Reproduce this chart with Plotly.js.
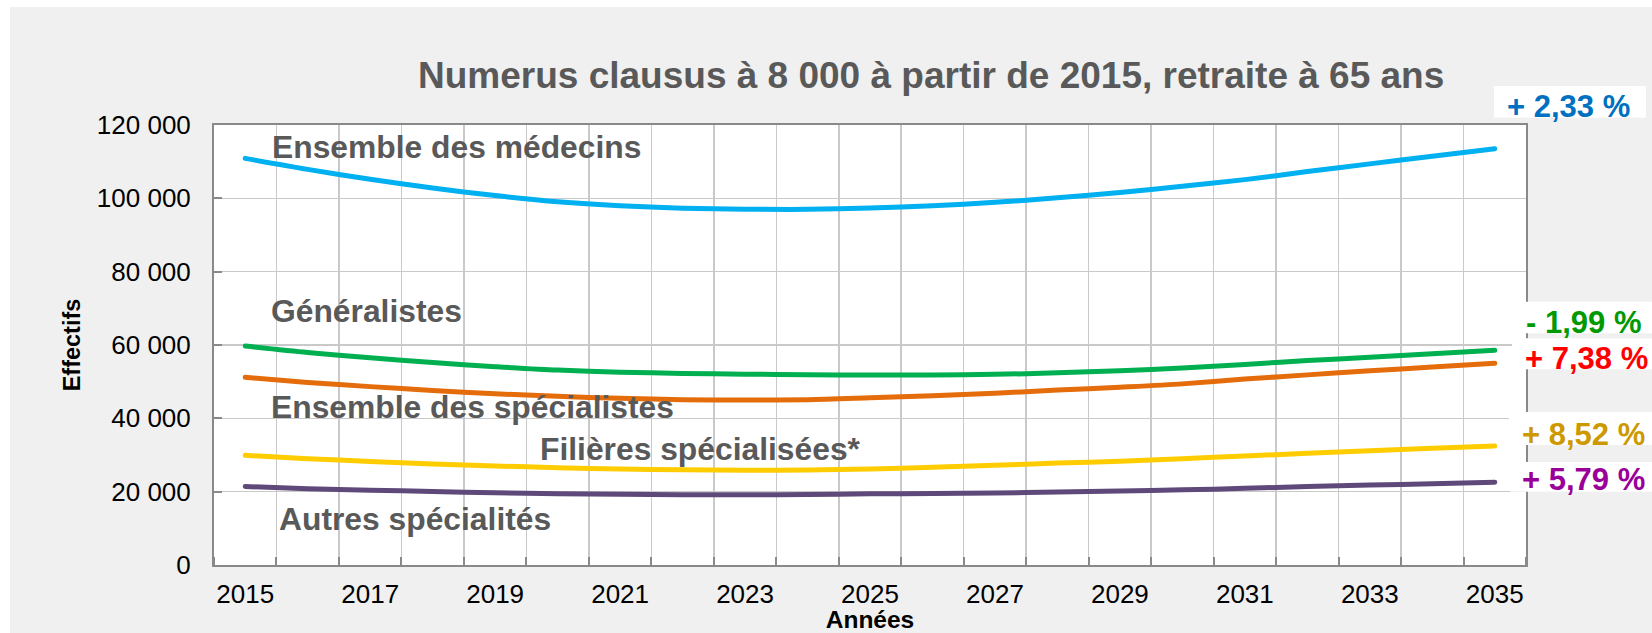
<!DOCTYPE html>
<html>
<head>
<meta charset="utf-8">
<script src="https://cdn.plot.ly/plotly-3.0.1.min.js"></script>
<style>
  html, body { margin: 0; padding: 0; background: #ffffff; width: 1652px; height: 633px; overflow: hidden; }
  #chart { position: absolute; left: 10px; top: 7px; width: 1642px; height: 626px; }
  .scatterlayer .js-line { stroke-linecap: round; stroke-linejoin: round; }
</style>
</head>
<body>
<div id="chart"></div>
<script>
// ---- Data ----
const years = [2015, 2016, 2017, 2018, 2019, 2020, 2021, 2022, 2023, 2024, 2025,
               2026, 2027, 2028, 2029, 2030, 2031, 2032, 2033, 2034, 2035];

const ensembleMedecins = [110900, 107900, 105200, 102800, 100750, 99050, 97950, 97300, 97050, 97000, 97350,
                          98000, 98900, 100150, 101600, 103300, 105100, 107300, 109400, 111500, 113500];
const generalistes = [59700, 57950, 56500, 55200, 54100, 53150, 52600, 52250, 52050, 51900, 51800,
                      51850, 52000, 52400, 53000, 53700, 54700, 55750, 56650, 57600, 58550];
const ensembleSpecialistes = [51200, 49800, 48650, 47600, 46700, 46000, 45450, 45100, 45000, 45100, 45600,
                              46150, 46850, 47700, 48500, 49400, 50700, 51850, 52950, 54000, 55000];
const filieresSpecialisees = [29900, 29000, 28250, 27550, 27000, 26550, 26150, 25950, 25850, 25900, 26200,
                              26650, 27200, 27800, 28300, 29000, 29750, 30450, 31150, 31850, 32450];
const autresSpecialites = [21400, 20800, 20400, 20050, 19700, 19450, 19300, 19150, 19150, 19200, 19400,
                           19500, 19650, 19900, 20200, 20500, 20900, 21400, 21800, 22150, 22600];

const seriesNames = ["Ensemble des médecins", "Généralistes", "Ensemble des spécialistes",
                     "Filières spécialisées*", "Autres spécialités"];
const evolutionLabels = ["+ 2,33 %", "- 1,99 %", "+ 7,38 %", "+ 8,52 %", "+ 5,79 %"];
const xTickYears = [2015, 2017, 2019, 2021, 2023, 2025, 2027, 2029, 2031, 2033, 2035];
const yTickValues = [0, 20000, 40000, 60000, 80000, 100000, 120000];

const chartTitle = "Numerus clausus à 8 000 à partir de 2015, retraite à 65 ans";
const xTitle = "Années";
const yTitle = "Effectifs";

// ---- Styles ----
const FONT = "'Liberation Sans', Arial, sans-serif";
const lineColors = ["#00B0F0", "#00B050", "#E46C0A", "#FFCC00", "#5F497A"];
const pctColors = ["#0070C0", "#009900", "#FF0000", "#CC9900", "#990099"];
const values = [ensembleMedecins, generalistes, ensembleSpecialistes, filieresSpecialisees, autresSpecialites];

const traces = values.map((v, i) => ({
  type: "scatter",
  mode: "lines",
  x: years,
  y: v,
  name: seriesNames[i],
  line: { color: lineColors[i], width: 5, shape: "spline", smoothing: 0.8 },
  hoverinfo: "skip"
}));

// series label positions (paper coords, relative to plot area)
const seriesLabelPos = [
  { x: 0.0429, y: 0.9489 },
  { x: 0.0417, y: 0.5775 },
  { x: 0.0417, y: 0.3580 },
  { x: 0.2470, y: 0.2639 },
  { x: 0.0482, y: 0.1048 }
];
const pctLabelPos = [
  { x: 0.9842, y: 1.0411 },
  { x: 0.9982, y: 0.5511 },
  { x: 0.9975, y: 0.4693 },
  { x: 0.9957, y: 0.2973 },
  { x: 0.9958, y: 0.1934 }
];
const pctBoxes = [
  { x0: 0.9756, x1: 1.0915, y0: 1.0166, y1: 1.0886 },
  { x0: 0.9985, x1: 1.0960, y0: 0.5266, y1: 0.5984 },
  { x0: 0.9893, x1: 1.0960, y0: 0.4448, y1: 0.5152 },
  { x0: 0.9870, x1: 1.0960, y0: 0.2727, y1: 0.3477 },
  { x0: 0.9878, x1: 1.0960, y0: 0.1666, y1: 0.2341 }
];

const annotations = [];
seriesNames.forEach((name, i) => {
  annotations.push({
    xref: "paper", yref: "paper", x: seriesLabelPos[i].x, y: seriesLabelPos[i].y,
    xanchor: "left", yanchor: "middle", showarrow: false,
    text: "<b>" + name + "</b>",
    font: { family: FONT, size: 31.8, color: "#595959" }
  });
});
evolutionLabels.forEach((t, i) => {
  annotations.push({
    xref: "paper", yref: "paper", x: pctLabelPos[i].x, y: pctLabelPos[i].y,
    xanchor: "left", yanchor: "middle", showarrow: false,
    text: "<b>" + t + "</b>",
    font: { family: FONT, size: 31, color: pctColors[i] }
  });
});

const shapes = pctBoxes.map(b => ({
  type: "rect", xref: "paper", yref: "paper",
  x0: b.x0, x1: b.x1, y0: b.y0, y1: b.y1,
  fillcolor: "#ffffff", line: { width: 0 }, layer: "above"
}));

const layout = {
  width: 1642,
  height: 626,
  margin: { l: 204, r: 126, t: 118, b: 68, pad: 0 },
  paper_bgcolor: "#f0f0f0",
  plot_bgcolor: "#ffffff",
  showlegend: false,
  separators: ", ",
  font: { family: FONT, color: "#000000" },
  title: {
    text: "<b>" + chartTitle + "</b>",
    font: { family: FONT, size: 37, color: "#595959" },
    xref: "container", x: 0.561, xanchor: "center",
    yref: "container", y: 0.892, yanchor: "middle"
  },
  xaxis: {
    range: [2014.5, 2035.5],
    tickvals: xTickYears,
    tickformat: "d",
    showgrid: false,
    ticks: "",
    tickfont: { family: FONT, size: 26, color: "#000000" },
    ticklabelstandoff: 5,
    showline: true, linecolor: "#898989", linewidth: 2, mirror: true,
    zeroline: false,
    fixedrange: true,
    minor: {
      tick0: 2014.5, dtick: 1,
      showgrid: true, gridcolor: "#c9c9c9", gridwidth: 1.5,
      ticks: "inside", ticklen: 8, tickcolor: "#898989", tickwidth: 2
    },
    title: { text: "<b>" + xTitle + "</b>", font: { family: FONT, size: 24.5, color: "#000000" }, standoff: 3 }
  },
  yaxis: {
    range: [0, 120000],
    tickvals: yTickValues,
    tickformat: ",.0f",
    showgrid: true, gridcolor: "#c9c9c9", gridwidth: 1.5,
    ticks: "inside", ticklen: 8, tickcolor: "#898989", tickwidth: 2,
    tickfont: { family: FONT, size: 26, color: "#000000" },
    ticklabelstandoff: 16,
    showline: true, linecolor: "#898989", linewidth: 2, mirror: true,
    zeroline: false,
    fixedrange: true,
    title: { text: "<b>" + yTitle + "</b>", font: { family: FONT, size: 23.5, color: "#000000" }, standoff: 10 }
  },
  annotations: annotations,
  shapes: shapes
};

Plotly.newPlot("chart", traces, layout, { displayModeBar: false, staticPlot: true });
</script>
</body>
</html>
